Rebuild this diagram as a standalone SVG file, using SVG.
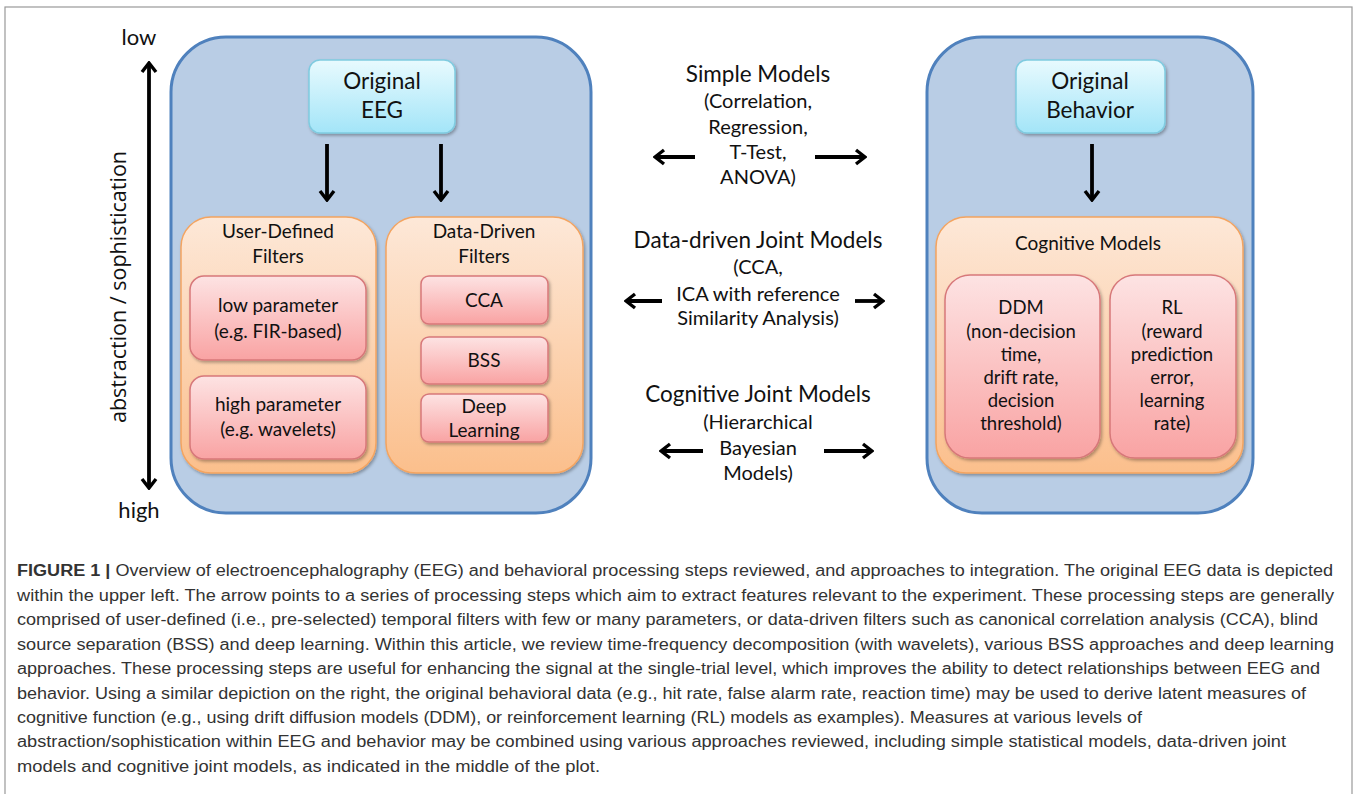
<svg xmlns="http://www.w3.org/2000/svg" width="1354" height="794" viewBox="0 0 1354 794">
<defs>
<style>
.t{font-family:Lato,"Open Sans",sans-serif;fill:#111;text-anchor:middle}
.big{font-size:22.5px}
.mid{font-size:20px}
.sm{font-size:19px}
.dd{font-size:18.5px}
.cap{font-family:"Liberation Sans",Arial,sans-serif;font-size:16px;fill:#333}
.blue{fill:#b9cde5;stroke:#4f81bd;stroke-width:3}
.cyan{fill:url(#gc);stroke:#7fcbe0;stroke-width:1.5;filter:url(#sh)}
.org{fill:url(#go);stroke:#f4a460;stroke-width:1.5;filter:url(#sh)}
.pink{fill:url(#gp);stroke:#d7787a;stroke-width:1.5;filter:url(#sh)}
.arr{stroke:#000;stroke-width:3.8;fill:none;marker-end:url(#hd)}
.dbl{stroke:#000;stroke-width:3.8;fill:none;marker-end:url(#hd);marker-start:url(#hd)}
</style>
<linearGradient id="gc" x1="0" y1="0" x2="0" y2="1"><stop offset="0" stop-color="#e8fafe"/><stop offset="1" stop-color="#a3e5f8"/></linearGradient>
<linearGradient id="go" x1="0" y1="0" x2="0" y2="1"><stop offset="0" stop-color="#fde8d8"/><stop offset="1" stop-color="#fbbf8c"/></linearGradient>
<linearGradient id="gp" x1="0" y1="0" x2="0" y2="1"><stop offset="0" stop-color="#fde3e3"/><stop offset="1" stop-color="#f9a3a3"/></linearGradient>
<filter id="sh" x="-10%" y="-10%" width="130%" height="130%"><feDropShadow dx="1.5" dy="2" stdDeviation="1.5" flood-color="#000" flood-opacity="0.3"/></filter>
<marker id="hd" viewBox="0 0 13 18" refX="11" refY="9" markerWidth="13" markerHeight="18" markerUnits="userSpaceOnUse" orient="auto-start-reverse"><path d="M2,2 L11,9 L2,16" fill="none" stroke="#000" stroke-width="3.4"/></marker>
</defs>
<rect x="5" y="7" width="1347" height="795" fill="#fff" stroke="#999" stroke-width="1.2"/>

<g id="eeg-panel"><rect class="blue" x="171" y="37" width="420" height="476" rx="55"/></g>
<g id="behavior-panel"><rect class="blue" x="927" y="37" width="326" height="476" rx="55"/></g>

<g id="original-eeg"><rect class="cyan" x="309" y="60" width="146" height="73" rx="11"/>
<text class="t big" x="382" y="89">Original</text><text class="t big" x="382" y="118">EEG</text></g>
<g id="original-behavior"><rect class="cyan" x="1016" y="60" width="149" height="73" rx="11"/>
<text class="t big" x="1090" y="89">Original</text><text class="t big" x="1090" y="118">Behavior</text></g>

<g id="user-defined"><rect class="org" x="181" y="217" width="195" height="256" rx="30"/>
<text class="t sm" x="278" y="238">User-Defined</text><text class="t sm" x="278" y="263">Filters</text></g>
<g id="data-driven"><rect class="org" x="386" y="217" width="197" height="256" rx="30"/>
<text class="t sm" x="484" y="238">Data-Driven</text><text class="t sm" x="484" y="263">Filters</text></g>
<g id="cognitive-models"><rect class="org" x="936" y="217" width="307" height="256" rx="30"/>
<text class="t sm" x="1088" y="250">Cognitive Models</text></g>

<g id="low-param"><rect class="pink" x="190" y="276" width="176" height="84" rx="14"/>
<text class="t sm" x="278" y="312">low parameter</text><text class="t sm" x="278" y="338">(e.g. FIR-based)</text></g>
<g id="high-param"><rect class="pink" x="190" y="376" width="176" height="83" rx="14"/>
<text class="t sm" x="278" y="411">high parameter</text><text class="t sm" x="278" y="436">(e.g. wavelets)</text></g>
<g id="cca"><rect class="pink" x="421" y="276" width="127" height="48" rx="8"/>
<text class="t sm" x="484" y="307">CCA</text></g>
<g id="bss"><rect class="pink" x="421" y="337" width="127" height="47" rx="8"/>
<text class="t sm" x="484" y="367">BSS</text></g>
<g id="deep"><rect class="pink" x="421" y="394" width="127" height="48" rx="8"/>
<text class="t sm" x="484" y="413">Deep</text><text class="t sm" x="484" y="437">Learning</text></g>
<g id="ddm"><rect class="pink" x="945" y="275" width="155" height="183" rx="25"/>
<text class="t dd" x="1021" y="314">DDM</text><text class="t dd" x="1021" y="338">(non-decision</text><text class="t dd" x="1021" y="361">time,</text><text class="t dd" x="1021" y="384">drift rate,</text><text class="t dd" x="1021" y="407">decision</text><text class="t dd" x="1021" y="430">threshold)</text></g>
<g id="rl"><rect class="pink" x="1110" y="275" width="126" height="183" rx="25"/>
<text class="t dd" x="1172" y="314">RL</text><text class="t dd" x="1172" y="338">(reward</text><text class="t dd" x="1172" y="361">prediction</text><text class="t dd" x="1172" y="384">error,</text><text class="t dd" x="1172" y="407">learning</text><text class="t dd" x="1172" y="430">rate)</text></g>

<g id="simple-models"><text class="t big" x="758" y="82">Simple Models</text>
<text class="t mid" x="758" y="108">(Correlation,</text><text class="t mid" x="758" y="134">Regression,</text><text class="t mid" x="758" y="159">T-Test,</text><text class="t mid" x="758" y="184">ANOVA)</text></g>
<g id="data-joint"><text class="t big" x="758" y="248">Data-driven Joint Models</text>
<text class="t mid" x="758" y="274">(CCA,</text><text class="t mid" x="758" y="301">ICA with reference</text><text class="t mid" x="758" y="325">Similarity Analysis)</text></g>
<g id="cog-joint"><text class="t big" x="758" y="402">Cognitive Joint Models</text>
<text class="t mid" x="758" y="429">(Hierarchical</text><text class="t mid" x="758" y="455">Bayesian</text><text class="t mid" x="758" y="480">Models)</text></g>

<g id="axis"><text class="t" style="font-size:22px" x="139" y="45">low</text>
<text class="t" style="font-size:22px" x="139" y="518">high</text>
<text class="t" style="font-size:22px;font-family:'Open Sans',sans-serif" transform="translate(126,287) rotate(-90)" textLength="272" lengthAdjust="spacingAndGlyphs">abstraction / sophistication</text></g>

<g id="connectors">
<line class="dbl" x1="149" y1="63" x2="149" y2="488"/>
<line class="arr" x1="327" y1="144" x2="327" y2="200"/>
<line class="arr" x1="441" y1="144" x2="441" y2="200"/>
<line class="arr" x1="1092" y1="144" x2="1092" y2="200"/>
<line class="arr" x1="695" y1="157" x2="655" y2="157"/>
<line class="arr" x1="815" y1="157" x2="865" y2="157"/>
<line class="arr" x1="662" y1="301" x2="626" y2="301"/>
<line class="arr" x1="855" y1="301" x2="883" y2="301"/>
<line class="arr" x1="703" y1="451" x2="661" y2="451"/>
<line class="arr" x1="824" y1="451" x2="872" y2="451"/>
</g>

<g id="caption">
<text class="cap" x="17" y="576" textLength="1316" lengthAdjust="spacingAndGlyphs"><tspan font-weight="bold">FIGURE 1 | </tspan>Overview of electroencephalography (EEG) and behavioral processing steps reviewed, and approaches to integration. The original EEG data is depicted</text>
<text class="cap" x="17" y="601" textLength="1317" lengthAdjust="spacingAndGlyphs">within the upper left. The arrow points to a series of processing steps which aim to extract features relevant to the experiment. These processing steps are generally</text>
<text class="cap" x="17" y="625" textLength="1301" lengthAdjust="spacingAndGlyphs">comprised of user-defined (i.e., pre-selected) temporal filters with few or many parameters, or data-driven filters such as canonical correlation analysis (CCA), blind</text>
<text class="cap" x="17" y="650" textLength="1317" lengthAdjust="spacingAndGlyphs">source separation (BSS) and deep learning. Within this article, we review time-frequency decomposition (with wavelets), various BSS approaches and deep learning</text>
<text class="cap" x="17" y="674" textLength="1303" lengthAdjust="spacingAndGlyphs">approaches. These processing steps are useful for enhancing the signal at the single-trial level, which improves the ability to detect relationships between EEG and</text>
<text class="cap" x="17" y="699" textLength="1289" lengthAdjust="spacingAndGlyphs">behavior. Using a similar depiction on the right, the original behavioral data (e.g., hit rate, false alarm rate, reaction time) may be used to derive latent measures of</text>
<text class="cap" x="17" y="723" textLength="1125" lengthAdjust="spacingAndGlyphs">cognitive function (e.g., using drift diffusion models (DDM), or reinforcement learning (RL) models as examples). Measures at various levels of</text>
<text class="cap" x="17" y="747" textLength="1269" lengthAdjust="spacingAndGlyphs">abstraction/sophistication within EEG and behavior may be combined using various approaches reviewed, including simple statistical models, data-driven joint</text>
<text class="cap" x="17" y="772" textLength="583" lengthAdjust="spacingAndGlyphs">models and cognitive joint models, as indicated in the middle of the plot.</text>
</g>
</svg>
